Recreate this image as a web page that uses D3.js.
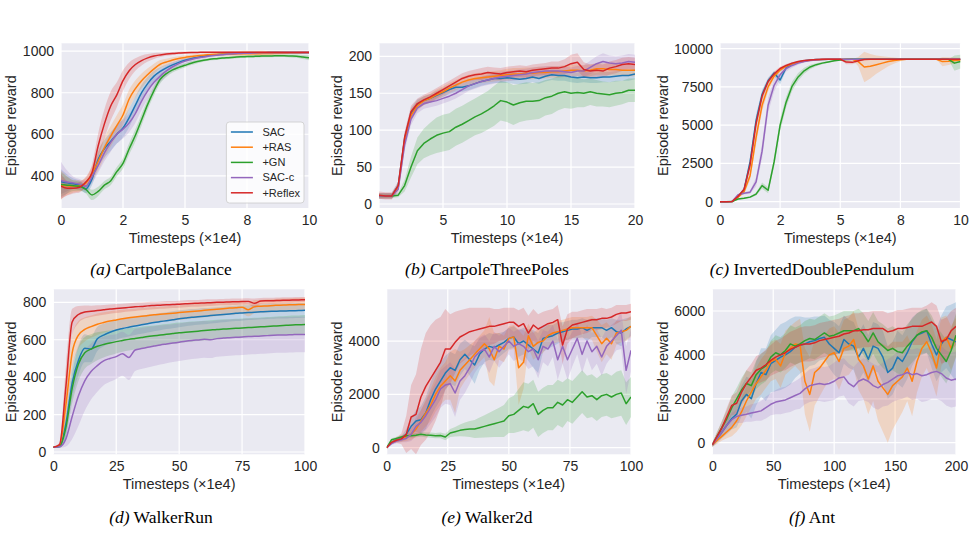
<!DOCTYPE html>
<html>
<head>
<meta charset="utf-8">
<style>
  body { margin: 0; background: #fff; }
  svg { display: block; }
  .axis text { font-family: "Liberation Sans", Arial, sans-serif; font-size: 14px; fill: #262626; }
  .alabel { font-family: "Liberation Sans", Arial, sans-serif; font-size: 14.5px; fill: #262626; }
  .legend text { font-family: "Liberation Sans", Arial, sans-serif; font-size: 11px; fill: #262626; }
  .caption { font-family: "Liberation Serif", "Times New Roman", serif; font-size: 17.5px; fill: #000; }
</style>
</head>
<body>
<svg width="975" height="545"></svg>
<script src="https://cdn.jsdelivr.net/npm/d3@7"></script>
<script>

// series names + colours (seaborn tab10)
var names = ["SAC", "+RAS", "+GN", "SAC-c", "+Reflex"];
var colors = ["#1f77b4", "#ff7f0e", "#2ca02c", "#9467bd", "#d62728"];

// x grids (timesteps x1e4)
var xTen = [0,0.25,0.5,0.75,1,1.25,1.5,1.75,2,2.25,2.5,2.75,3,3.25,3.5,3.75,4,4.25,4.5,4.75,5,5.25,5.5,5.75,6,6.25,6.5,6.75,7,7.25,7.5,7.75,8,8.25,8.5,8.75,9,9.25,9.5,9.75,10];
var xTwenty = [0,0.5,1,1.5,2,2.5,3,3.5,4,4.5,5,5.5,6,6.5,7,7.5,8,8.5,9,9.5,10,10.5,11,11.5,12,12.5,13,13.5,14,14.5,15,15.5,16,16.5,17,17.5,18,18.5,19,19.5,20];
var xHundred = [0,2.5,5,7.5,10,12.5,15,17.5,20,22.5,25,27.5,30,32.5,35,37.5,40,42.5,45,47.5,50,52.5,55,57.5,60,62.5,65,67.5,70,72.5,75,77.5,80,82.5,85,87.5,90,92.5,95,97.5,100];
var w2X = [0,2,4,6,8,10,12,14,16,18,20,22,24,26,28,30,32,34,36,38,40,42,44,46,48,50,52,54,56,58,60,62,64,66,68,70,72,74,76,78,80,82,84,86,88,90,92,94,96,98,100];
var antX = [0,4,8,12,16,20,24,28,32,36,40,44,48,52,56,60,64,68,72,76,80,84,88,92,96,100,104,108,112,116,120,124,128,132,136,140,144,148,152,156,160,164,168,172,176,180,184,188,192,196,200];

// tick values / labels
var tenTicks = [0,2.5,5,7.5,10];
var tenLabels = ["0","2","5","8","10"];
var twentyTicks = [0,5,10,15,20];
var hundredTicks = [0,25,50,75,100];
var antTicks = [0,50,100,150,200];
var cbYTicks = [400,600,800,1000];
var tpYTicks = [0,50,100,150,200];
var idpYTicks = [0,2500,5000,7500,10000];
var wrYTicks = [0,200,400,600,800];
var w2YTicks = [0,2000,4000];
var antYTicks = [0,2000,4000,6000];

// (a) CartpoleBalance
var cbSAC = [372,366,362,355,337,385,480,530,565,600,630,680,740,800,845,880,903,920,934,946,956,964,970,976,980,983,986,988,990,991,992,993,993,993,994,994,994,994,994,994,994];
var cbSACsd = [60,40,25,22,20,30,40,42,45,45,45,45,42,38,32,26,20,16,13,10,8,7,6,6,5,5,5,5,5,5,5,5,5,5,5,5,5,5,5,5,5];
var cbRAS = [355,352,350,352,365,410,470,535,590,642,693,770,820,858,888,915,937,948,958,965,970,974,978,981,983,985,986,987,987,988,988,988,988,989,989,990,990,991,991,992,992];
var cbRASsd = [70,45,30,27,25,35,45,50,50,50,50,45,40,35,30,25,20,16,13,11,10,9,8,8,8,9,10,11,12,13,14,14,14,12,10,8,6,5,5,5,5];
var cbGN = [358,355,352,350,335,308,325,355,375,420,460,530,595,670,745,810,865,892,910,922,932,942,950,956,961,964,967,969,971,973,974,975,976,977,977,978,978,977,976,972,968];
var cbGNsd = [60,40,25,22,20,25,22,20,20,22,25,28,30,28,25,22,20,16,13,11,10,9,8,7,6,6,6,6,6,6,6,6,6,6,6,6,6,7,8,10,12];
var cbSACc = [378,370,366,360,350,395,450,510,560,600,625,655,700,760,810,850,880,905,925,940,952,960,967,972,977,980,983,986,988,989,990,991,992,992,992,993,993,993,993,993,993];
var cbSACcsd = [90,55,30,25,25,30,35,40,45,45,45,45,45,42,40,35,30,25,20,17,15,12,10,8,7,6,5,5,5,5,5,5,5,5,5,5,5,5,5,5,5];
var cbReflex = [350,340,340,345,370,415,545,650,735,790,858,906,936,955,968,977,982,986,989,991,993,994,994,995,995,995,995,995,995,995,995,995,995,995,995,995,995,995,995,995,995];
var cbReflexsd = [60,35,25,25,25,40,60,70,70,60,50,40,30,24,18,14,10,8,7,6,5,5,4,4,4,4,4,4,4,4,4,4,4,4,4,4,4,4,4,4,4];

// (b) CartpoleThreePoles
var tpSAC = [11,11,11,25,88,122,135,140,143,147,151,155,158,158,160,163,166,168,170,170,171,170,169,170,172,170,173,175,174,174,172,171,172,171,171,172,172,173,174,174,176];
var tpSACsd = [4,4,4,5,8,8,7,6,6,6,6,6,6,6,6,6,6,6,6,6,7,7,7,7,7,7,7,7,7,7,7,7,7,7,7,7,7,7,7,7,7];
var tpRAS = [11,11,11,22,85,120,133,140,143,148,152,157,161,165,168,170,171,172,173,174,175,176,176,177,177,178,178,179,179,180,181,181,180,181,183,183,182,182,181,181,181];
var tpRASsd = [4,4,4,5,8,8,7,6,6,7,7,7,7,7,7,7,7,7,7,7,8,8,8,8,8,8,8,8,8,8,8,8,8,8,8,8,8,8,8,8,8];
var tpGN = [11,11,11,12,25,50,72,82,88,93,96,98,104,108,113,118,122,127,133,140,138,134,137,139,139,140,144,146,150,152,150,151,150,152,150,149,148,150,151,154,154];
var tpGNsd = [3,3,3,3,8,14,18,20,22,24,25,25,25,25,25,25,26,26,27,27,27,27,26,26,25,25,24,24,23,22,21,20,19,18,18,17,17,17,16,16,16];
var tpSACc = [11,11,11,20,80,115,130,136,138,140,143,146,150,155,160,163,166,168,170,172,173,174,175,176,178,179,180,180,180,179,178,180,180,185,190,193,191,190,191,193,192];
var tpSACcsd = [4,4,4,5,8,8,7,7,7,7,7,7,7,7,7,7,7,7,7,7,7,7,7,7,7,7,7,7,7,7,7,7,8,9,10,11,10,10,10,10,10];
var tpReflex = [12,11,11,25,90,125,136,141,145,150,155,160,165,170,173,175,176,178,177,176,178,179,180,179,181,182,183,184,184,186,190,192,182,180,181,180,184,186,189,190,189];
var tpReflexsd = [5,5,5,5,8,8,7,7,7,7,7,7,7,7,7,7,8,8,8,8,8,8,8,8,8,8,8,9,9,10,12,12,10,9,9,9,9,9,9,9,9];

// (c) InvertedDoublePendulum
var idpSAC = [0,0,10,330,780,2600,5300,7000,7900,8400,7950,8750,9000,9120,9200,9250,9280,9290,9300,9300,9300,9300,9300,9300,9300,9300,9300,9300,9300,9300,9300,9300,9300,9300,9300,9300,9300,9300,9300,9300,9300];
var idpSACsd = [0,0,5,60,150,300,400,300,200,150,300,150,100,60,40,30,20,15,10,10,10,10,10,10,10,10,10,10,10,10,10,10,10,10,10,10,10,10,10,10,10];
var idpRAS = [0,0,10,300,650,1700,4200,6300,7500,8200,8600,8850,9000,9100,9180,9230,9260,9280,9300,9300,9300,9300,9300,9150,8800,8850,8950,9050,9150,9220,9270,9300,9300,9300,9300,9300,9300,9150,9180,9220,9250];
var idpRASsd = [0,0,5,50,150,300,450,400,300,200,150,100,80,60,50,40,30,20,15,10,10,10,10,300,1000,800,600,450,300,200,100,50,10,10,10,10,10,300,250,200,150];
var idpGN = [0,0,10,180,230,300,500,1050,750,2600,5000,6500,7550,8150,8550,8800,8950,9050,9130,9200,9250,9280,9300,9300,9300,9300,9300,9300,9300,9300,9300,9300,9300,9300,9300,9300,9300,9300,9300,9050,9150];
var idpGNsd = [0,0,5,30,40,50,100,200,200,300,400,350,300,250,200,150,100,80,60,50,40,30,20,10,10,10,10,10,10,10,10,10,10,10,10,10,10,10,10,500,450];
var idpSACc = [0,0,10,450,550,620,1300,3300,6300,7600,8300,8700,8900,9050,9150,9220,9260,9280,9300,9300,9300,9300,9300,9300,9300,9300,9300,9300,9300,9300,9300,9300,9300,9300,9300,9300,9300,9300,9300,9300,9300];
var idpSACcsd = [0,0,5,60,80,100,300,500,500,400,300,200,150,100,60,40,30,20,10,10,10,10,10,10,10,10,10,10,10,10,10,10,10,10,10,10,10,10,10,10,10];
var idpReflex = [0,0,10,350,800,2400,5100,6900,7850,8350,8700,8900,9050,9150,9220,9260,9280,9300,9300,9300,9300,9120,9100,9200,9280,9300,9300,9300,9300,9300,9300,9300,9300,9300,9300,9300,9300,9300,9300,9300,9300];
var idpReflexsd = [0,0,5,60,150,300,400,300,200,150,120,100,80,60,40,30,20,15,10,10,10,150,120,80,30,10,10,10,10,10,10,10,10,10,10,10,10,10,10,10,10];

// (d) WalkerRun
var wrSAC = [25,30,150,370,490,555,550,605,625,640,652,660,667,674,680,686,692,697,702,707,712,716,720,723,726,729,732,735,738,741,743,745,747,749,751,752,753,754,755,756,757];
var wrSACsd = [2,8,60,80,80,75,70,65,60,55,52,50,50,48,48,47,46,46,45,45,45,44,44,43,43,42,42,42,41,41,41,40,40,40,40,40,40,40,40,40,40];
var wrRAS = [25,35,250,530,625,655,670,683,692,700,706,712,717,721,725,729,733,736,739,742,745,748,751,754,757,760,763,766,769,771,774,760,777,779,781,783,785,786,787,788,789];
var wrRASsd = [2,10,80,90,75,65,60,57,55,52,50,48,46,45,44,43,42,41,40,40,40,39,38,38,37,37,36,36,36,36,35,35,35,35,35,35,35,35,35,35,35];
var wrGN = [25,30,130,340,470,530,550,565,575,583,590,596,602,607,612,617,621,625,629,633,637,640,643,646,649,652,655,657,659,661,663,665,667,669,671,673,675,677,679,680,682];
var wrGNsd = [2,8,50,80,90,85,80,75,70,66,63,60,60,58,57,56,55,55,55,55,55,54,54,53,53,52,52,52,51,51,51,50,50,50,50,50,50,50,50,50,50];
var wrSACc = [25,28,70,190,300,380,430,462,487,500,510,525,505,545,553,560,566,572,577,582,587,592,596,599,602,600,606,609,611,613,615,617,618,620,622,624,625,626,627,628,628];
var wrSACcsd = [2,5,40,120,160,160,150,140,130,125,120,118,120,112,110,108,106,104,102,101,100,100,99,99,98,98,97,97,97,96,96,96,96,95,95,95,95,95,95,95,95];
var wrReflex = [25,40,350,695,735,748,752,756,760,764,767,770,773,776,778,781,783,785,787,788,790,792,794,795,797,798,800,801,802,803,804,805,795,807,808,809,810,811,812,813,814];
var wrReflexsd = [2,12,110,70,45,35,30,28,26,25,24,23,22,22,21,21,20,20,20,19,19,19,18,18,18,18,17,17,17,17,17,17,25,16,16,16,16,16,15,15,15];

// (e) Walker2d
var w2SAC = [0,200,300,330,500,800,1000,1050,1300,1800,2200,2500,2800,3000,2900,3300,3500,3300,3100,3500,3700,3800,3750,3850,3950,4100,4150,3900,4000,3850,3700,3550,4100,4150,4200,4300,4350,4400,4450,4450,4500,4400,4500,4500,4500,4400,4500,4350,4300,4450,4550];
var w2SACsd = [0,50,80,100,200,300,400,500,600,650,700,700,650,600,600,600,550,600,700,600,500,500,500,450,400,400,400,500,500,600,700,750,500,450,400,400,350,350,350,350,350,400,350,350,350,400,350,450,500,400,350];
var w2RAS = [0,200,280,320,400,500,700,1000,1300,1600,2000,2300,2500,2700,2500,2900,3100,3300,3500,3700,3900,3700,3300,3800,3700,4100,4150,3000,3200,4200,3800,3950,4000,4200,4300,4350,4400,4450,4500,4500,4500,4500,4500,4200,3900,4100,3900,4300,4350,4400,4550];
var w2RASsd = [0,50,80,100,150,200,300,400,500,600,650,700,700,900,1200,700,600,550,500,500,500,1200,1000,500,500,450,450,1400,1000,450,500,500,450,400,400,400,400,400,400,400,400,400,450,600,700,600,600,450,400,400,400];
var w2GN = [0,300,350,400,450,450,470,500,480,470,450,460,400,550,600,650,680,700,700,750,800,850,900,950,1000,1200,1250,1400,1550,1500,1650,1250,1400,1500,1500,1700,1600,1800,1700,1900,2100,1900,1950,1800,1950,2000,1900,2000,2050,1650,1900];
var w2GNsd = [0,50,60,70,80,80,80,90,90,100,100,110,120,150,180,220,260,300,340,380,420,460,500,550,600,650,700,800,900,900,900,850,850,850,850,850,850,800,800,800,800,800,800,800,800,800,800,850,850,800,750];
var w2SACc = [0,150,250,300,350,500,800,950,1200,1500,1800,2200,2350,2400,2050,2500,2700,3000,3400,3600,3700,3400,3800,3600,3800,4000,3800,3900,3800,3600,3700,3300,3800,3700,4000,3300,3800,3300,3700,4100,3500,4000,3600,3800,3400,3800,4000,4200,4400,2900,3650];
var w2SACcsd = [0,50,80,100,150,250,350,450,550,600,650,700,700,800,900,700,650,600,600,550,550,600,550,600,550,500,550,550,600,650,650,700,600,650,600,750,650,750,650,600,700,600,700,650,700,650,600,550,700,900,800];
var w2Reflex = [0,200,280,330,500,1150,1250,1900,2300,2600,2900,3200,3700,3700,3950,4150,4250,4350,4400,4450,4500,4550,4550,4600,4650,4700,4700,4550,4650,4300,4600,4450,4550,4650,4700,4800,3850,4450,4600,4650,4700,4750,4800,4800,4850,4850,4900,5000,5050,5050,5100];
var w2Reflexsd = [0,50,100,200,700,1200,1500,1800,2000,2000,1900,1700,1500,1300,1150,1000,950,900,850,800,750,700,650,600,600,550,550,600,600,650,600,550,550,500,500,550,700,550,500,450,450,450,400,400,400,350,350,350,300,300,300];

// (f) Ant
var antSAC = [-100,200,500,800,1100,1300,1900,2200,2000,2700,3200,3100,3600,3750,3900,4000,4150,4350,4450,4500,4600,4650,4750,4800,4500,4300,4100,4700,4500,4400,3900,4300,3800,4400,4300,3900,3200,3400,3900,3700,4100,4600,4900,5000,5100,4500,4000,4500,4800,4700,4600];
var antSACsd = [100,200,300,400,500,600,700,800,900,1000,1100,1200,1300,1400,1500,1500,1500,1400,1300,1200,1100,1100,1000,1000,1100,1200,1200,1100,1100,1100,1100,1100,1100,1100,1100,1200,1200,1200,1200,1200,1200,1100,1000,1000,1000,1100,1200,1300,1400,1600,1800];
var antRAS = [-100,100,300,500,700,1000,1400,1900,2300,2700,3000,3300,3700,3800,3500,4100,4300,4500,4450,2800,2200,3200,3400,3700,4000,4100,3700,4300,4400,4700,3800,3500,2900,3500,2800,2500,2200,2600,2800,3000,3400,2800,3700,4300,4600,4100,3400,4600,4800,4300,4800];
var antRASsd = [100,150,200,300,400,500,600,700,700,700,800,800,900,900,1000,1000,1000,1000,1200,1500,1700,1500,1300,1200,1200,1200,1300,1300,1300,1300,1400,1500,1600,1600,1800,2000,2200,2000,1800,1600,1500,1600,1400,1300,1200,1300,1300,1100,1000,1000,900];
var antGN = [-100,300,700,1100,1600,2000,2400,2700,2600,3100,3350,3500,3900,4100,4000,4200,4500,4400,4500,4650,4750,4700,4850,5000,4850,4900,5000,5100,5100,5100,5200,4950,4600,5000,4600,4400,4200,4300,4150,4100,4400,4650,4900,5050,5100,4800,4300,4000,3700,4200,4900];
var antGNsd = [100,200,300,400,500,500,550,600,600,650,700,700,750,800,800,800,850,850,850,900,900,900,900,900,900,900,900,900,900,900,900,950,950,950,950,1000,1000,1000,1000,1000,1000,1000,1000,1000,1000,1000,1000,1000,1000,1000,1000];
var antSACc = [-100,200,500,800,1050,1200,1250,1300,1350,1400,1450,1600,1750,1850,1900,1950,2050,2150,2250,2450,2600,2650,2700,2650,2700,2800,2950,3000,2700,2550,2800,2900,2800,2600,2500,2650,2750,2900,3050,3100,3200,3100,3150,3050,3100,3200,3250,3150,2950,2850,2900];
var antSACcsd = [100,150,200,250,300,300,350,350,400,400,450,500,500,550,600,600,650,650,700,700,750,750,800,800,800,850,850,850,900,900,900,950,950,1000,1000,1000,1050,1050,1100,1100,1100,1150,1150,1200,1200,1200,1250,1250,1250,1250,1250];
var antReflex = [-100,300,700,1200,1700,1800,2300,2700,3000,3300,3400,3550,3750,3900,4000,4100,4250,4350,4450,4500,4500,4550,4650,4700,4750,4800,4850,4950,5000,5100,5100,5150,5150,5200,5200,5200,5050,5100,5200,5200,5250,5300,5300,5300,5400,5500,5300,4600,4700,5100,5300];
var antReflexsd = [100,200,300,400,450,500,550,600,600,650,650,700,700,750,750,800,800,800,800,800,800,800,800,800,800,800,800,800,800,800,800,800,800,800,800,800,850,850,850,850,850,850,850,850,850,900,950,1000,1000,900,850];

var svg = d3.select("svg");
svg.append("rect").attr("width", 975).attr("height", 545).attr("fill", "#fff");

var panels = [
  {x: xTen, means: [cbSAC, cbRAS, cbGN, cbSACc, cbReflex], sds: [cbSACsd, cbRASsd, cbGNsd, cbSACcsd, cbReflexsd],
   box: {l: 61, r: 309, t: 43.3, b: 208}, yDomain: [245, 1038], xTicks: tenTicks, xLabels: tenLabels, yTicks: cbYTicks,
   tag: "(a)", title: "CartpoleBalance", cx: 161, capY: 274.5, legend: true, smooth: true},
  {x: xTwenty, means: [tpSAC, tpRAS, tpGN, tpSACc, tpReflex], sds: [tpSACsd, tpRASsd, tpGNsd, tpSACcsd, tpReflexsd],
   box: {l: 379, r: 635, t: 43.3, b: 208}, yDomain: [-5.4, 217.6], xTicks: twentyTicks, yTicks: tpYTicks,
   tag: "(b)", title: "CartpoleThreePoles", cx: 487, capY: 274.5, smooth: false},
  {x: xTen, means: [idpSAC, idpRAS, idpGN, idpSACc, idpReflex], sds: [idpSACsd, idpRASsd, idpGNsd, idpSACcsd, idpReflexsd],
   box: {l: 720, r: 960.5, t: 43.3, b: 208}, yDomain: [-410, 10345], xTicks: tenTicks, xLabels: tenLabels, yTicks: idpYTicks,
   tag: "(c)", title: "InvertedDoublePendulum", cx: 812, capY: 274.5, smooth: false},
  {x: xHundred, means: [wrSAC, wrRAS, wrGN, wrSACc, wrReflex], sds: [wrSACsd, wrRASsd, wrGNsd, wrSACcsd, wrReflexsd],
   box: {l: 53.3, r: 305, t: 289.3, b: 454.3}, yDomain: [-12.3, 869.6], xTicks: hundredTicks, yTicks: wrYTicks,
   tag: "(d)", title: "WalkerRun", cx: 161, capY: 523, smooth: true},
  {x: w2X, means: [w2SAC, w2RAS, w2GN, w2SACc, w2Reflex], sds: [w2SACsd, w2RASsd, w2GNsd, w2SACcsd, w2Reflexsd],
   box: {l: 386.7, r: 631, t: 289.3, b: 454.3}, yDomain: [-248, 5940], xTicks: hundredTicks, yTicks: w2YTicks,
   tag: "(e)", title: "Walker2d", cx: 487, capY: 523, smooth: false},
  {x: antX, means: [antSAC, antRAS, antGN, antSACc, antReflex], sds: [antSACsd, antRASsd, antGNsd, antSACcsd, antReflexsd],
   box: {l: 712.3, r: 956, t: 289.3, b: 454.3}, yDomain: [-528, 6989], xTicks: antTicks, yTicks: antYTicks,
   tag: "(f)", title: "Ant", cx: 812, capY: 523, smooth: false}
];

var defs = svg.append("defs");

panels.forEach(function(p, k) {
  var b = p.box;
  var x = d3.scaleLinear().domain([p.x[0], p.x[p.x.length - 1]]).range([b.l, b.r]);
  var y = d3.scaleLinear().domain(p.yDomain).range([b.b, b.t]);
  var curve = p.smooth ? d3.curveMonotoneX : d3.curveLinear;
  var g = svg.append("g");

  defs.append("clipPath").attr("id", "clip" + k)
    .append("rect").attr("x", b.l).attr("y", b.t).attr("width", b.r - b.l).attr("height", b.b - b.t);

  //background + grid
  g.append("rect").attr("x", b.l).attr("y", b.t).attr("width", b.r - b.l).attr("height", b.b - b.t)
    .attr("fill", "#eaeaf2");
  g.selectAll(".hgrid").data(p.yTicks).enter().append("line")
    .attr("x1", b.l).attr("x2", b.r)
    .attr("y1", function(d) { return y(d); }).attr("y2", function(d) { return y(d); })
    .attr("stroke", "#fff").attr("stroke-width", 1.2);
  g.selectAll(".vgrid").data(p.xTicks).enter().append("line")
    .attr("y1", b.t).attr("y2", b.b)
    .attr("x1", function(d) { return x(d); }).attr("x2", function(d) { return x(d); })
    .attr("stroke", "#fff").attr("stroke-width", 1.2);

  var plot = g.append("g").attr("clip-path", "url(#clip" + k + ")");

  var area = d3.area()
    .x(function(d, i) { return x(p.x[i]); })
    .y0(function(d) { return y(d[0] - d[1]); })
    .y1(function(d) { return y(d[0] + d[1]); })
    .curve(curve);
  var line = d3.line()
    .x(function(d, i) { return x(p.x[i]); })
    .y(function(d) { return y(d); })
    .curve(curve);

  // bands all go under the lines (matplotlib zorder)
  p.means.forEach(function(m, s) {
    var rows = m.map(function(v, i) { return [v, p.sds[s][i]]; });
    plot.append("path").datum(rows).attr("d", area)
      .attr("fill", colors[s]).attr("fill-opacity", 0.2);
  });
  p.means.forEach(function(m, s) {
    plot.append("path").datum(m).attr("d", line)
      .attr("fill", "none").attr("stroke", colors[s]).attr("stroke-width", 1.5)
      .attr("stroke-linejoin", "round");
  });

  //axes
  var gy = g.append("g").attr("class", "axis")
    .attr("transform", "translate(" + b.l + ",0)")
    .call(d3.axisLeft(y).tickValues(p.yTicks).tickSize(0).tickPadding(7).tickFormat(d3.format("d")));
  gy.select(".domain").remove();

  var xAxis = d3.axisBottom(x).tickValues(p.xTicks).tickSize(0).tickPadding(7);
  if (p.xLabels) xAxis.tickFormat(function(d, i) { return p.xLabels[i]; });
  else xAxis.tickFormat(d3.format("d"));
  var gx = g.append("g").attr("class", "axis")
    .attr("transform", "translate(0," + b.b + ")")
    .call(xAxis);
  gx.select(".domain").remove();

  // bbox is in the axis group's own coords, so add the translate back
  var bb = gy.node().getBBox();
  var labelX = b.l + bb.x - 6.5;
  g.append("text").attr("class", "alabel")
    .attr("transform", "translate(" + labelX + "," + ((b.t + b.b) / 2) + ") rotate(-90)")
    .attr("text-anchor", "middle")
    .text("Episode reward");
  g.append("text").attr("class", "alabel")
    .attr("x", (b.l + b.r) / 2).attr("y", b.b + 35)
    .attr("text-anchor", "middle")
    .text("Timesteps (×1e4)");

  var cap = g.append("text").attr("class", "caption")
    .attr("x", p.cx).attr("y", p.capY).attr("text-anchor", "middle");
  cap.append("tspan").attr("font-style", "italic").text(p.tag);
  cap.append("tspan").text(" " + p.title);

  if (p.legend) {
    var lw = 77.6, lh = 81;
    var lg = g.append("g").attr("class", "legend")
      .attr("transform", "translate(" + (b.r - 5 - lw) + "," + (b.b - 5 - lh) + ")");
    lg.append("rect").attr("width", lw).attr("height", lh).attr("rx", 3)
      .attr("fill", "#fff").attr("fill-opacity", 0.8)
      .attr("stroke", "#cccccc").attr("stroke-width", 0.8);
    var items = lg.selectAll(".item").data(names).enter().append("g")
      .attr("transform", function(d, i) { return "translate(0," + (10 + i * 15.2) + ")"; });
    items.append("line").attr("x1", 4.5).attr("x2", 26.5)
      .attr("stroke", function(d, i) { return colors[i]; }).attr("stroke-width", 1.5);
    items.append("text").attr("x", 36).attr("dy", "0.35em").text(function(d) { return d; });
  }
});

</script>
</body>
</html>
